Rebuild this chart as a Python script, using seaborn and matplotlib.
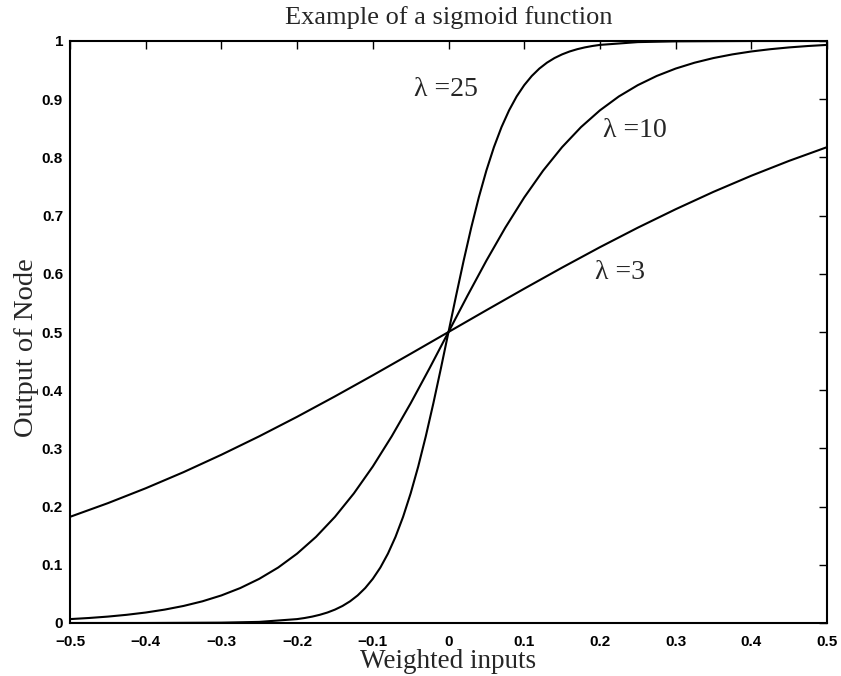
import numpy as np
import pandas as pd
import matplotlib
matplotlib.use("Agg")
import matplotlib.pyplot as plt
import seaborn as sns

# values
x_lam3 = [-0.5, -0.45, -0.4, -0.35, -0.3, -0.25, -0.2, -0.15, -0.1, -0.05, 0.0,
          0.05, 0.1, 0.15, 0.2, 0.25, 0.3, 0.35, 0.4, 0.45, 0.5]
y_lam3 = [0.1824, 0.2059, 0.2315, 0.2592, 0.2891, 0.3208, 0.3543, 0.3894, 0.4256, 0.4626, 0.5,
          0.5374, 0.5744, 0.6106, 0.6457, 0.6792, 0.7109, 0.7408, 0.7685, 0.7941, 0.8176]

x_lam10 = [-0.5, -0.475, -0.45, -0.425, -0.4, -0.375, -0.35, -0.325, -0.3, -0.275,
           -0.25, -0.225, -0.2, -0.175, -0.15, -0.125, -0.1, -0.075, -0.05, -0.025, 0.0,
           0.025, 0.05, 0.075, 0.1, 0.125, 0.15, 0.175, 0.2, 0.225, 0.25,
           0.275, 0.3, 0.325, 0.35, 0.375, 0.4, 0.425, 0.45, 0.475, 0.5]
y_lam10 = [0.0067, 0.0086, 0.0110, 0.0141, 0.0180, 0.0230, 0.0293, 0.0373, 0.0474, 0.0601,
           0.0759, 0.0953, 0.1192, 0.1480, 0.1824, 0.2227, 0.2689, 0.3208, 0.3775, 0.4378, 0.5,
           0.5622, 0.6225, 0.6792, 0.7311, 0.7773, 0.8176, 0.8520, 0.8808, 0.9047, 0.9241,
           0.9399, 0.9526, 0.9627, 0.9707, 0.9770, 0.9820, 0.9859, 0.9890, 0.9914, 0.9933]

x_lam25 = [-0.5, -0.4, -0.3, -0.25,
           -0.2, -0.19, -0.18, -0.17, -0.16, -0.15, -0.14, -0.13, -0.12, -0.11, -0.1,
           -0.09, -0.08, -0.07, -0.06, -0.05, -0.04, -0.03, -0.02, -0.01, 0.0,
           0.01, 0.02, 0.03, 0.04, 0.05, 0.06, 0.07, 0.08, 0.09, 0.1,
           0.11, 0.12, 0.13, 0.14, 0.15, 0.16, 0.17, 0.18, 0.19, 0.2,
           0.25, 0.3, 0.4, 0.5]
y_lam25 = [0.0000, 0.0000, 0.0006, 0.0019,
           0.0067, 0.0086, 0.0110, 0.0141, 0.0180, 0.0230, 0.0293, 0.0373, 0.0474, 0.0601, 0.0759,
           0.0953, 0.1192, 0.1480, 0.1824, 0.2227, 0.2689, 0.3208, 0.3775, 0.4378, 0.5,
           0.5622, 0.6225, 0.6792, 0.7311, 0.7773, 0.8176, 0.8520, 0.8808, 0.9047, 0.9241,
           0.9399, 0.9526, 0.9627, 0.9707, 0.9770, 0.9820, 0.9859, 0.9890, 0.9914, 0.9933,
           0.9981, 0.9994, 1.0000, 1.0000]

curve_labels = ["λ =25", "λ =10", "λ =3"]
label_x = [-0.045, 0.204, 0.194]
label_y = [0.916, 0.847, 0.603]

xticks = [-0.5, -0.4, -0.3, -0.2, -0.1, 0, 0.1, 0.2, 0.3, 0.4, 0.5]
xtick_labels = ["\u22120.5", "\u22120.4", "\u22120.3", "\u22120.2", "\u22120.1", "0",
                "0.1", "0.2", "0.3", "0.4", "0.5"]
yticks = [0, 0.1, 0.2, 0.3, 0.4, 0.5, 0.6, 0.7, 0.8, 0.9, 1]
ytick_labels = ["0", "0.1", "0.2", "0.3", "0.4", "0.5", "0.6", "0.7", "0.8", "0.9", "1"]

sns.set_style("white")
plt.rcParams["font.family"] = ["Liberation Sans", "DejaVu Sans"]

fig, ax = plt.subplots(figsize=(8.41, 6.76), dpi=100)
fig.subplots_adjust(left=70 / 841, right=827 / 841, top=1 - 41 / 676, bottom=1 - 623 / 676)

for xs, ys in [(x_lam3, y_lam3), (x_lam10, y_lam10), (x_lam25, y_lam25)]:
    df = pd.DataFrame({"x": xs, "y": ys})
    sns.lineplot(data=df, x="x", y="y", ax=ax, color="black", linewidth=1.5)

serif = ["Liberation Serif", "DejaVu Serif"]
for txt, tx, ty in zip(curve_labels, label_x, label_y):
    ax.text(tx, ty, txt, fontsize=20, family=serif, va="center", ha="left")

ax.set_xlim(-0.5, 0.5)
ax.set_ylim(0, 1)
ax.set_xticks(xticks)
ax.set_xticklabels(xtick_labels, fontweight="bold")
ax.set_yticks(yticks)
ax.set_yticklabels(ytick_labels, fontweight="bold")
ax.tick_params(direction="in", length=6, width=1, top=True, right=True,
               labelsize=11, colors="black")
ax.tick_params(axis="x", pad=9)
ax.tick_params(axis="y", pad=5)
for s in ax.spines.values():
    s.set_color("black")
    s.set_linewidth(1.5)

ax.set_title("Example of a sigmoid function", fontsize=19, family=serif, pad=12)
ax.set_xlabel("Weighted inputs", fontsize=19.5, family=serif, labelpad=0)
ax.set_ylabel("Output of Node", fontsize=20.5, family=serif)
ax.yaxis.set_label_coords(-0.041, 0.474)

fig.savefig("out.png", dpi=100)
